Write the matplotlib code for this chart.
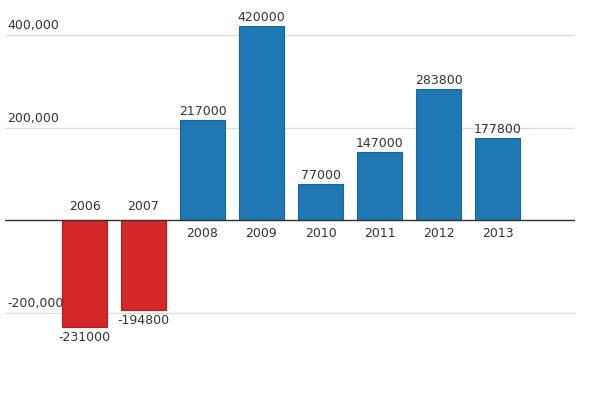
import matplotlib.pyplot as plt

years = ['2006', '2007', '2008', '2009', '2010', '2011', '2012', '2013']
values = [-231000, -194800, 217000, 420000, 77000, 147000, 283800, 177800]
y_ticks = [-200000, 200000, 400000]

BLUE = '#1f77b4'
RED = '#d62728'
TEXT = '#333333'

fig = plt.figure(figsize=(6, 4), dpi=100)
# axes spans pixel x 5..575, full height
ax = fig.add_axes([5 / 600, 0, 570 / 600, 1])

# px scale: 0 at y=220, 400k at y=35 (from top)
px_per_unit = 185 / 400000
ax.set_ylim(-(400 - 220) / px_per_unit, 220 / px_per_unit)
ax.set_xlim(-79.5 / 59, (570 - 79.5) / 59)

x = list(range(len(years)))
colors = [RED if v < 0 else BLUE for v in values]
edges = ['#b8191b' if v < 0 else '#17659e' for v in values]
ax.bar(x, values, width=45 / 59, color=colors, edgecolor=edges, linewidth=0.8, zorder=2)

for t in y_ticks:
    ax.axhline(t, color='#dddddd', linewidth=1, zorder=1)
    ax.annotate(f'{t:,}', xy=(0, t), xycoords=('axes fraction', 'data'),
                xytext=(1.5, 2), textcoords='offset points',
                ha='left', va='bottom', fontsize=9, color=TEXT)
ax.axhline(0, color='#333333', linewidth=1, zorder=3)

for i, v in enumerate(values):
    if v >= 0:
        ax.annotate(str(v), xy=(i, v), xytext=(0, 1.5), textcoords='offset points',
                    ha='center', va='bottom', fontsize=9, color=TEXT)
        ax.annotate(years[i], xy=(i, 0), xytext=(0, -5), textcoords='offset points',
                    ha='center', va='top', fontsize=9, color=TEXT)
    else:
        ax.annotate(str(v), xy=(i, v), xytext=(0, -3), textcoords='offset points',
                    ha='center', va='top', fontsize=9, color=TEXT)
        ax.annotate(years[i], xy=(i, 0), xytext=(0, 5), textcoords='offset points',
                    ha='center', va='bottom', fontsize=9, color=TEXT)

ax.axis('off')
fig.savefig('out.png', dpi=100)
